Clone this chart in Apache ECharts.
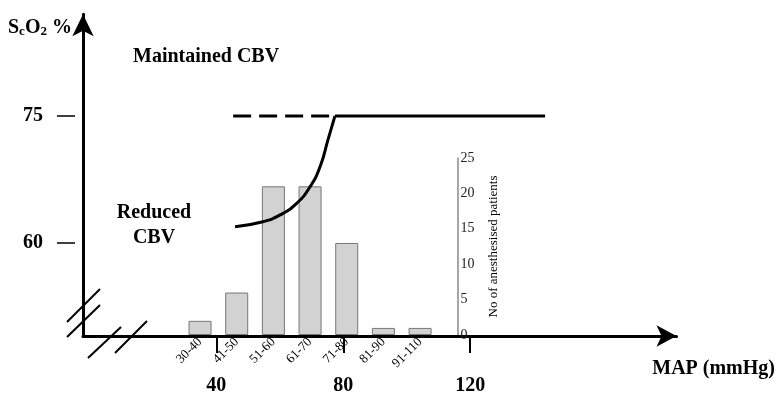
<!DOCTYPE html>
<html>
<head>
<meta charset="utf-8">
<script src="https://cdn.jsdelivr.net/npm/echarts@6/dist/echarts.min.js"></script>
<style>
  html, body { margin: 0; padding: 0; background: #fff; }
  #chart { width: 777px; height: 399px; }
</style>
</head>
<body>
<div id="chart"></div>
<script>
// histogram of patients per MAP range
var categories = ["30-40", "41-50", "51-60", "61-70", "71-80", "81-90", "91-110"];
var patients = [2, 6, 21, 21, 13, 1, 1];

// schematic curves: [MAP, ScO2]
var reducedCurve = [[45.9, 61.9], [54.7, 62.5], [60.1, 63.3], [65.4, 64.7], [69.5, 66.6], [72.7, 69.0], [75.2, 72.2], [77.4, 75]];
var maintainedDashed = [[45.3, 75], [77.4, 75]];
var maintainedSolid = [[77.4, 75], [143.6, 75]];

var mapTicks = [40, 80, 120];
var scoTicks = [60, 75];

var serif = "Liberation Serif";
var myChart = echarts.init(document.getElementById("chart"));

myChart.setOption({
  animation: false,
  grid: [
    { left: 83, top: 14.3, width: 593.5, height: 321.7 },
    { left: 181.7, top: 158, width: 256.7, height: 177 }
  ],
  xAxis: [
    {
      type: "value", gridIndex: 0, min: -2, max: 185,
      splitLine: { show: false },
      axisLine: { onZero: false, lineStyle: { color: "#000", width: 3 }, symbol: ["none", "arrow"], symbolSize: [16, 20] },
      axisTick: { customValues: mapTicks, length: 17, lineStyle: { color: "#000", width: 2 } },
      axisLabel: { customValues: mapTicks, margin: 40, color: "#000", fontFamily: serif, fontWeight: "bold", fontSize: 20 }
    },
    {
      type: "category", gridIndex: 1, data: categories,
      axisLine: { show: false },
      axisTick: { show: false },
      axisLabel: { rotate: 45, margin: 5, color: "#000", fontFamily: serif, fontSize: 13, interval: 0 }
    }
  ],
  yAxis: [
    {
      type: "value", gridIndex: 0, min: 49, max: 87, position: "left",
      splitLine: { show: false },
      axisLine: { onZero: false, lineStyle: { color: "#000", width: 3 }, symbol: ["none", "arrow"], symbolSize: [16, 22] },
      axisTick: { show: false },
      axisLabel: { show: false }
    },
    {
      type: "value", gridIndex: 0, min: 49, max: 87, position: "left", offset: 8,
      splitLine: { show: false },
      axisLine: { show: false, onZero: false },
      axisTick: { show: true, customValues: scoTicks, length: 18, lineStyle: { color: "#000", width: 1.5 } },
      axisLabel: { customValues: scoTicks, margin: 32, color: "#000", fontFamily: serif, fontWeight: "bold", fontSize: 20 }
    },
    {
      type: "value", gridIndex: 1, min: 0, max: 25, interval: 5, position: "right", offset: 19,
      splitLine: { show: false },
      axisLine: { show: true, lineStyle: { color: "#888", width: 1.5 } },
      axisTick: { show: false },
      axisLabel: { margin: 3, color: "#222", fontFamily: serif, fontSize: 14 },
      name: "No of anesthesised patients",
      nameLocation: "middle", nameRotate: 90, nameGap: 30,
      nameTextStyle: { color: "#000", fontFamily: serif, fontSize: 13 }
    }
  ],
  series: [
    {
      type: "bar", xAxisIndex: 1, yAxisIndex: 2, data: patients, barWidth: 23, z: 1,
      itemStyle: { color: "#d2d2d2", borderColor: "#777", borderWidth: 1 }
    },
    {
      type: "line", xAxisIndex: 0, yAxisIndex: 0, data: reducedCurve, smooth: true,
      showSymbol: false, z: 5, lineStyle: { color: "#000", width: 3 }
    },
    {
      type: "line", xAxisIndex: 0, yAxisIndex: 0, data: maintainedDashed,
      showSymbol: false, z: 5, lineStyle: { color: "#000", width: 3, type: [18, 8] }
    },
    {
      type: "line", xAxisIndex: 0, yAxisIndex: 0, data: maintainedSolid,
      showSymbol: false, z: 5, lineStyle: { color: "#000", width: 3 }
    }
  ],
  graphic: [
    // axis break marks
    { type: "line", shape: { x1: 67, y1: 322, x2: 100, y2: 289 }, style: { stroke: "#000", lineWidth: 2 } },
    { type: "line", shape: { x1: 67, y1: 337, x2: 100, y2: 305 }, style: { stroke: "#000", lineWidth: 2 } },
    { type: "line", shape: { x1: 88, y1: 358, x2: 121, y2: 327 }, style: { stroke: "#000", lineWidth: 2 } },
    { type: "line", shape: { x1: 115, y1: 353, x2: 147, y2: 321 }, style: { stroke: "#000", lineWidth: 2 } },
    {
      type: "text", left: 8, top: 18,
      style: {
        text: "{b|S}{s|c}{b|O}{s|2}{b| %}",
        rich: {
          b: { fontFamily: serif, fontWeight: "bold", fontSize: 20, fill: "#000" },
          s: { fontFamily: serif, fontWeight: "bold", fontSize: 13, fill: "#000", verticalAlign: "bottom", padding: [8, 0, 0, 0] }
        }
      }
    },
    { type: "text", left: 133, top: 47, style: { text: "Maintained CBV", fontFamily: serif, fontWeight: "bold", fontSize: 20, fill: "#000" } },
    { type: "text", x: 154, y: 200, style: { text: "Reduced\nCBV", align: "center", lineHeight: 25, fontFamily: serif, fontWeight: "bold", fontSize: 20, fill: "#000" } },
    { type: "text", right: 2, top: 359, style: { text: "MAP (mmHg)", fontFamily: serif, fontWeight: "bold", fontSize: 20, fill: "#000" } }
  ]
});
</script>
</body>
</html>
